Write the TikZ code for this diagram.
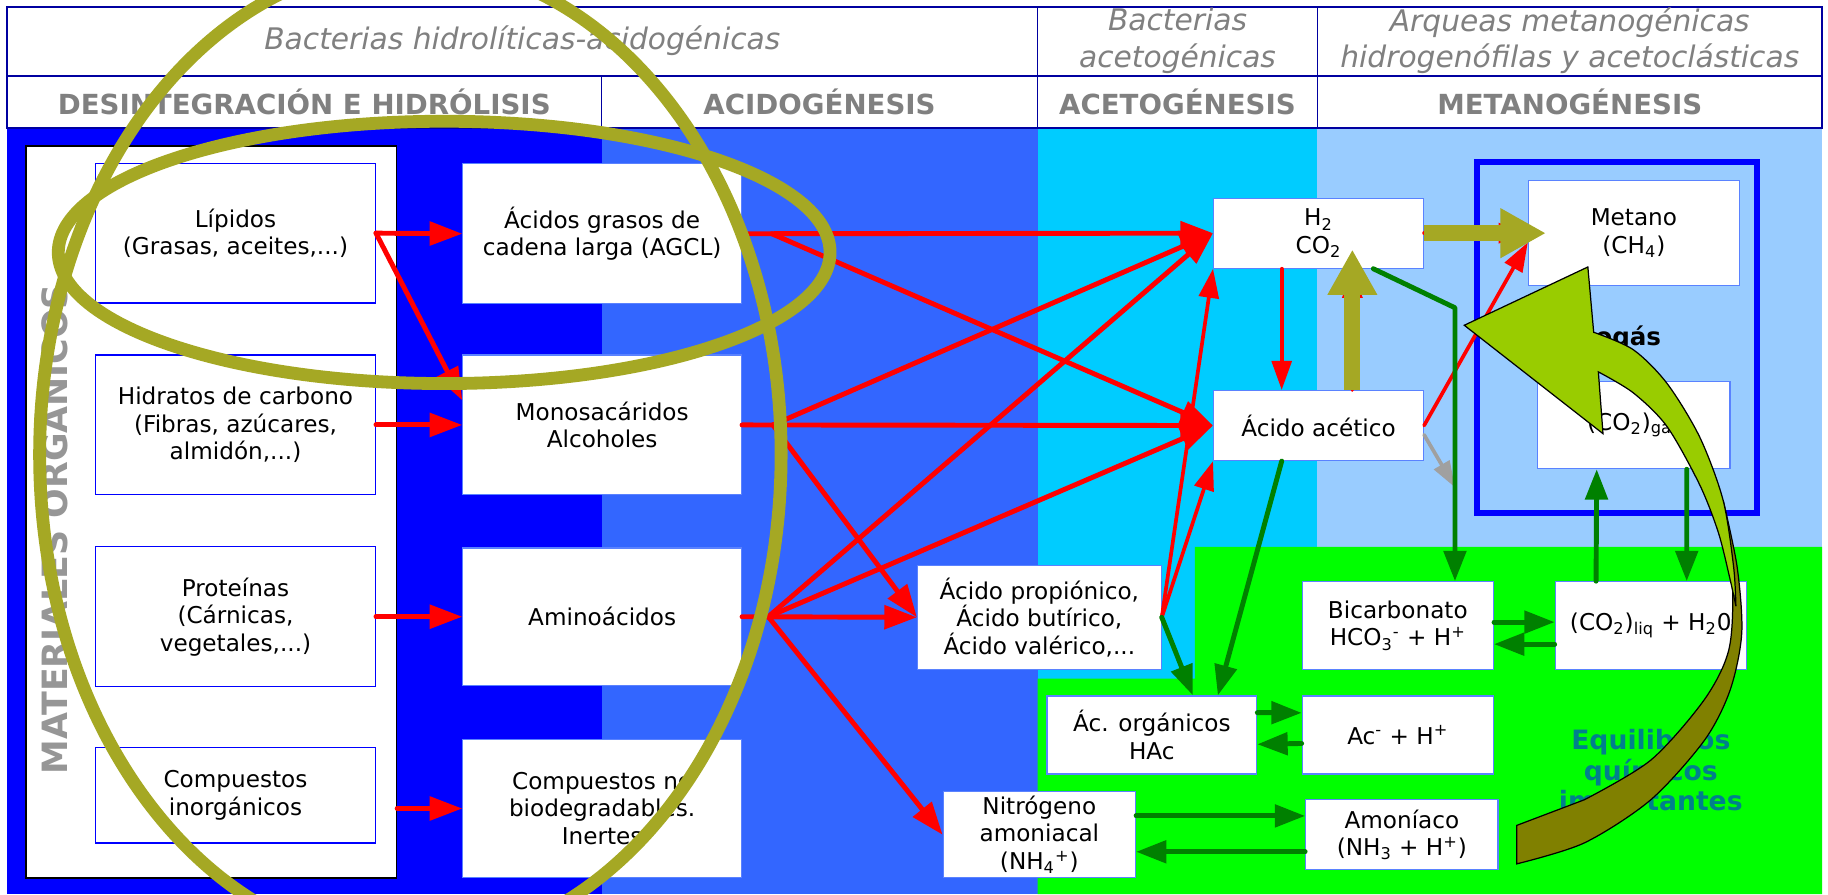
\documentclass[tikz,border=0pt]{standalone}
\usepackage{fontspec}
\setmainfont{DejaVu Sans}
\usetikzlibrary{arrows.meta}
\definecolor{azulosc}{RGB}{0,0,255}
\definecolor{azulmed}{RGB}{51,102,255}
\definecolor{cian}{RGB}{0,204,255}
\definecolor{celeste}{RGB}{153,204,255}
\definecolor{verdefondo}{RGB}{0,255,0}
\definecolor{verdeflecha}{RGB}{0,128,0}
\definecolor{oliva}{RGB}{165,168,36}
\definecolor{lima}{RGB}{153,204,0}
\definecolor{olivosc}{RGB}{128,128,0}
\definecolor{gristexto}{RGB}{128,128,128}
\definecolor{grismat}{RGB}{150,150,150}
\definecolor{grisflecha}{RGB}{160,160,160}
\definecolor{marino}{RGB}{0,0,160}
\definecolor{borde}{RGB}{90,130,255}
\definecolor{verdeazul}{RGB}{0,128,140}

\begin{document}
\begin{tikzpicture}[x=0.02cm,y=-0.02cm,
	caja/.style={draw=borde,fill=white,line width=0.6pt,inner sep=1pt,align=center,font=\fontsize{11.3}{13.4}\selectfont},
	cursiva/.style={text=gristexto,align=center,font=\fontsize{14.5}{17.6}\selectfont\itshape},
	fase/.style={text=gristexto,font=\fontsize{13.5}{16}\selectfont\bfseries},
	rojo/.style={draw=red,line width=2.4pt,line cap=round,-{Triangle[length=0.56cm,width=0.4cm]}},
	rojofino/.style={draw=red,line width=1.8pt,line cap=round,-{Triangle[length=0.5cm,width=0.34cm]}},
	verde/.style={draw=verdeflecha,line width=2.4pt,line cap=round,-{Triangle[length=0.52cm,width=0.38cm]}},
	olivo/.style={draw=oliva,line width=0.27cm,-{Triangle[length=0.78cm,width=0.8cm]}}]
			\useasboundingbox (0,0) rectangle (1568,767);
			\clip (0,0) rectangle (1568,767);
			\fill[white] (0,0) rectangle (1568,767);
			\fill[azulosc] (6,110) rectangle (516,767);
			\fill[azulmed] (516,110) rectangle (890,767);
			\fill[cian] (890,110) rectangle (1130,582);
			\fill[celeste] (1130,110) rectangle (1563,469);
			\fill[verdefondo] (1025,469) -- (1563,469) -- (1563,767) -- (890,767) -- (890,582) -- (1025,582) -- cycle;
			\draw[marino,line width=0.8pt] (6,6) rectangle (1563,110);
			\draw[marino,line width=0.8pt] (6,65) -- (1563,65) (890,6) -- (890,110) (1130,6) -- (1130,110) (516,65) -- (516,110);
			\node[cursiva] (bh) at (448,35) {Bacterias hidrolíticas-acidogénicas};
			\node[cursiva] (ba) at (1010,35) {Bacterias\\acetogénicas};
			\node[cursiva] (am) at (1346.5,35) {Arqueas metanogénicas\\hidrogenófilas y acetoclásticas};
			\node[fase] (f1) at (261,87.5) {DESINTEGRACIÓN E HIDRÓLISIS};
			\node[fase] (f2) at (703,87.5) {ACIDOGÉNESIS};
			\node[fase] (f3) at (1010,87.5) {ACETOGÉNESIS};
			\node[fase] (f4) at (1346.5,87.5) {METANOGÉNESIS};
			\node[draw=black,fill=white,line width=0.8pt,inner sep=0pt,minimum width=6.36cm,minimum height=12.56cm] (panel) at (181,439) {};
			\node[rotate=90,text=grismat,font=\fontsize{17}{20}\selectfont\bfseries] (mat) at (44,454) {MATERIALES ORGÁNICOS};
			\node[caja,draw=azulosc,minimum width=4.8cm,minimum height=2.4cm] (lip) at (202,200) {Lípidos\\(Grasas, aceites,...)};
			\node[caja,draw=azulosc,minimum width=4.8cm,minimum height=2.4cm] (hid) at (202,364.5) {Hidratos de carbono\\(Fibras, azúcares,\\almidón,...)};
			\node[caja,draw=azulosc,minimum width=4.8cm,minimum height=2.4cm] (pro) at (202,529) {Proteínas\\(Cárnicas,\\vegetales,...)};
			\node[caja,draw=azulosc,minimum width=4.8cm,minimum height=1.64cm] (ino) at (202,682) {Compuestos\\inorgánicos};
			\node[caja,minimum width=4.78cm,minimum height=2.4cm] (ag) at (516.5,200.5) {Ácidos grasos de\\cadena larga (AGCL)};
			\node[caja,minimum width=4.78cm,minimum height=2.4cm] (mono) at (516.5,364.5) {Monosacáridos\\Alcoholes};
			\node[caja,minimum width=4.78cm,minimum height=2.36cm] (ami) at (516.5,529) {Aminoácidos};
			\node[caja,minimum width=4.78cm,minimum height=2.38cm] (nob) at (516.5,693.5) {Compuestos no\\biodegradables.\\Inertes};
			\node[draw=azulosc,line width=0.1cm,minimum width=4.8cm,minimum height=6.02cm] (bio) at (1387,289.5) {};
			\node[font=\fontsize{12}{14}\selectfont\bfseries] (biog) at (1385,290) {Biogás};
			\node[caja,minimum width=3.6cm,minimum height=1.2cm] (h2) at (1131,200) {H\textsubscript{2}\\CO\textsubscript{2}};
			\node[caja,minimum width=3.6cm,minimum height=1.2cm] (acet) at (1131,365) {Ácido acético};
			\node[caja,minimum width=3.62cm,minimum height=1.8cm] (meta) at (1401.5,200) {Metano\\(CH\textsubscript{4})};
			\node[caja,minimum width=3.3cm,minimum height=1.5cm] (gas) at (1401.5,364.5) {(CO\textsubscript{2})\textsubscript{gas}};
			\node[caja,minimum width=4.18cm,minimum height=1.78cm] (prop) at (891.5,529.5) {Ácido propiónico,\\Ácido butírico,\\Ácido valérico,...};
			\node[caja,minimum width=3.28cm,minimum height=1.5cm] (bic) at (1199,536.5) {Bicarbonato\\HCO\textsubscript{3}\textsuperscript{-} + H\textsuperscript{+}};
			\node[caja,minimum width=3.28cm,minimum height=1.5cm] (liq) at (1416,536.5) {(CO\textsubscript{2})\textsubscript{liq} + H\textsubscript{2}0};
			\node[caja,minimum width=3.6cm,minimum height=1.34cm] (org) at (988,630.5) {Ác. orgánicos\\HAc};
			\node[caja,minimum width=3.28cm,minimum height=1.34cm] (acm) at (1199,630.5) {Ac\textsuperscript{-} + H\textsuperscript{+}};
			\node[caja,minimum width=3.3cm,minimum height=1.48cm] (nit) at (891.5,716) {Nitrógeno\\amoniacal\\(NH\textsubscript{4}\textsuperscript{+})};
			\node[caja,minimum width=3.3cm,minimum height=1.2cm] (amo) at (1202.5,716) {Amoníaco\\(NH\textsubscript{3} + H\textsuperscript{+})};
			\coordinate (fag) at (662,200.5);
			\coordinate (fmo) at (663,364.5);
			\coordinate (fam) at (659,529);
			\coordinate (olup) at (1160,214);
			\coordinate (olrt) at (1326,200);
			\coordinate (gris) at (1248,418);
			\coordinate (codo) at (1248,264);
			\draw[rojo] (lip.east) -- (ag.west);
			\draw[rojo] (lip.east) -- (mono.170);
			\draw[rojo] (hid.east) -- (mono.west);
			\draw[rojo] (pro.east) -- (ami.west);
			\draw[rojo] (panel.east |- nob.west) -- (nob.west);
			\draw[rojo] (ag.east) -- (h2.west);
			\draw[rojo] (fag) -- (acet.west);
			\draw[rojo] (mono.east) -- (acet.west);
			\draw[rojo] (fmo) -- (h2.west);
			\draw[rojo] (fmo) -- (prop.west);
			\draw[rojo] (ami.east) -- (prop.west);
			\draw[rojo] (fam) -- (h2.west);
			\draw[rojo] (fam) -- (acet.west);
			\draw[rojo] (fam) -- (nit.west);
			\draw[rojofino] (prop.east) -- (h2.south west);
			\draw[rojofino] (prop.east) -- (acet.south west);
			\draw[rojofino] (h2.224) -- (h2.224 |- acet.north);
			\draw[rojofino] (acet.north -| olup) -- (olup |- h2.south);
			\draw[rojofino] (h2.east) -- (meta.west);
			\draw[rojofino] (acet.east) -- (meta.185);
			\draw[draw=grisflecha,line width=1.8pt,line cap=round,-{Triangle[length=0.45cm,width=0.3cm]}] (acet.-5) -- (gris);
			\draw[verde,line join=round] (h2.-33) -- (codo) -- (codo |- bic.north);
			\draw[verde] (acet.224) -- (org.31);
			\draw[verde] (prop.east) -- (org.44);
			\draw[verde] (liq.141) -- (gas.230);
			\draw[verde] (gas.-40) -- (liq.51);
			\draw[verde] (bic.2) -- (liq.178);
			\draw[verde] (liq.191) -- (bic.-11);
			\draw[verde] (org.12) -- (acm.167);
			\draw[verde] (acm.185) -- (org.-5);
			\draw[verde] (nit.11) -- (amo.169);
			\draw[verde] (amo.190) -- (nit.-10);
			\draw[olivo] (acet.north -| olup) -- (olup);
			\draw[olivo] (h2.east) -- (olrt);
			\node[text=verdeazul,align=center,font=\fontsize{13}{14.8}\selectfont\bfseries] (equ) at (1416,663) {Equilibrios\\químicos\\importantes};
			\draw[draw=black,fill=olivosc,line width=0.6pt] plot[smooth] coordinates {(1478,429) (1490,486) (1494,543) (1484,592) (1462,635) (1416,686) (1359,723) (1301,741)} -- (1301,708) -- plot[smooth] coordinates {(1359,686) (1416,652) (1462,600) (1483,557) (1486,500) (1478,429)} -- cycle;
			\draw[draw=black,fill=lima,line width=0.6pt] (1256,279) -- (1362,229) -- (1367,285) -- plot[smooth] coordinates {(1367,285) (1401,300) (1430,329) (1458,375) (1478,429) (1487,486) (1489,520)} -- plot[smooth] coordinates {(1489,520) (1484,497) (1474,457) (1458,416) (1430,366) (1401,337) (1371,319)} -- (1375,372) -- cycle;
			\draw[oliva,line width=0.22cm] (381,216.5) ellipse [x radius=331,y radius=112.5];
			\draw[oliva,line width=0.22cm] (352,390) ellipse [x radius=318,y radius=422];
		\end{tikzpicture}
\end{document}
